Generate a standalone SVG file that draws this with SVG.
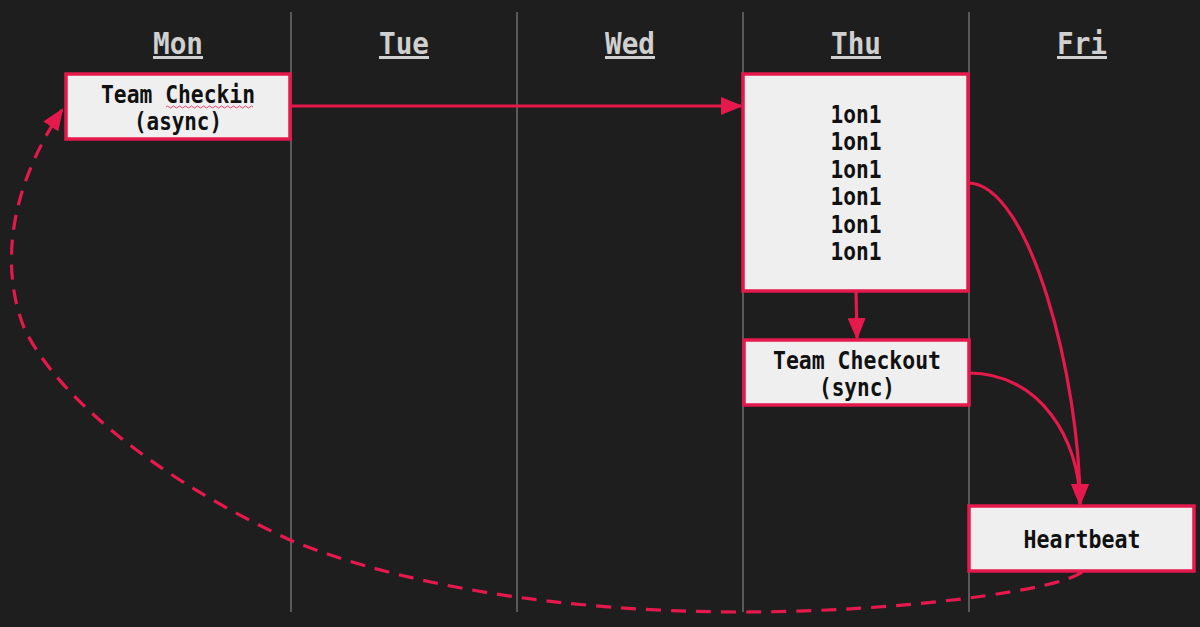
<svg xmlns="http://www.w3.org/2000/svg" width="1200" height="627" viewBox="0 0 1200 627">
<style>
.col{stroke:#6f6f6f;stroke-width:1.5}
.hdr{font-family:"DejaVu Sans Mono","Liberation Mono",monospace;font-size:30px;font-weight:bold;fill:#d0d0d0;text-anchor:middle;text-decoration:underline}
.box{fill:#efefef;stroke:#e5194b;stroke-width:3.5}
.t{font-family:"DejaVu Sans Mono","Liberation Mono",monospace;font-size:24px;font-weight:bold;fill:#111;text-anchor:middle}
.edge{fill:none;stroke:#e5194b;stroke-width:3.2}
.dash{stroke-dasharray:15 10}
</style>
<defs>
<marker id="arr" viewBox="0 0 22 18" refX="20" refY="9" markerWidth="22" markerHeight="18" markerUnits="userSpaceOnUse" orient="auto">
<path d="M0,0 L22,9 L0,18 Z" fill="#e5194b"/>
</marker>
</defs>
<rect width="1200" height="627" fill="#1e1e1e"/>
<g id="columns">
<line class="col" x1="291" y1="12" x2="291" y2="612"/>
<line class="col" x1="517" y1="12" x2="517" y2="612"/>
<line class="col" x1="743" y1="12" x2="743" y2="612"/>
<line class="col" x1="969" y1="12" x2="969" y2="612"/>
<text class="hdr" x="178" y="54" textLength="50" lengthAdjust="spacingAndGlyphs">Mon</text>
<text class="hdr" x="404" y="54" textLength="50" lengthAdjust="spacingAndGlyphs">Tue</text>
<text class="hdr" x="630" y="54" textLength="50" lengthAdjust="spacingAndGlyphs">Wed</text>
<text class="hdr" x="856" y="54" textLength="50" lengthAdjust="spacingAndGlyphs">Thu</text>
<text class="hdr" x="1082" y="54" textLength="50" lengthAdjust="spacingAndGlyphs">Fri</text>
</g>
<g id="connectors">
<path class="edge" d="M290,106 L741,106" marker-end="url(#arr)"/>
<path class="edge" d="M856,291 L857,338" marker-end="url(#arr)"/>
<path class="edge" d="M968,183 C1030,183 1080,380 1080,504" marker-end="url(#arr)"/>
<path class="edge" d="M969,373 C1040,373 1080,440 1080,504" marker-end="url(#arr)"/>
<path class="edge dash" d="M1082,572 C1060,590 900,612 743,612 C560,612 400,585 290,540 C160,480 60,400 25,330 C0,270 8,190 62,110" marker-end="url(#arr)"/>
</g>
<g id="team-checkin">
<rect class="box" x="66" y="74" width="224" height="65"/>
<text class="t" x="178" y="103" textLength="154" lengthAdjust="spacingAndGlyphs">Team Checkin</text>
<text class="t" x="178" y="130" textLength="88" lengthAdjust="spacingAndGlyphs">(async)</text>
<path d="M166,107 q1.5,-2 3,0 t3,0 t3,0 t3,0 t3,0 t3,0 t3,0 t3,0 t3,0 t3,0 t3,0 t3,0 t3,0 t3,0 t3,0 t3,0 t3,0 t3,0 t3,0 t3,0 t3,0 t3,0 t3,0 t3,0 t3,0 t3,0 t3,0 t3,0 t3,0" fill="none" stroke="#e5194b" stroke-width="0.8"/>
</g>
<g id="one-on-ones">
<rect class="box" x="743" y="74" width="225" height="217"/>
<text class="t" x="856" y="123" textLength="51" lengthAdjust="spacingAndGlyphs">1on1</text>
<text class="t" x="856" y="150" textLength="51" lengthAdjust="spacingAndGlyphs">1on1</text>
<text class="t" x="856" y="178" textLength="51" lengthAdjust="spacingAndGlyphs">1on1</text>
<text class="t" x="856" y="205" textLength="51" lengthAdjust="spacingAndGlyphs">1on1</text>
<text class="t" x="856" y="233" textLength="51" lengthAdjust="spacingAndGlyphs">1on1</text>
<text class="t" x="856" y="260" textLength="51" lengthAdjust="spacingAndGlyphs">1on1</text>
</g>
<g id="team-checkout">
<rect class="box" x="744" y="340" width="225" height="65"/>
<text class="t" x="857" y="369" textLength="168" lengthAdjust="spacingAndGlyphs">Team Checkout</text>
<text class="t" x="857" y="396" textLength="76" lengthAdjust="spacingAndGlyphs">(sync)</text>
</g>
<g id="heartbeat">
<rect class="box" x="969" y="506" width="225" height="65"/>
<text class="t" x="1082" y="548" textLength="117" lengthAdjust="spacingAndGlyphs">Heartbeat</text>
</g>
</svg>
